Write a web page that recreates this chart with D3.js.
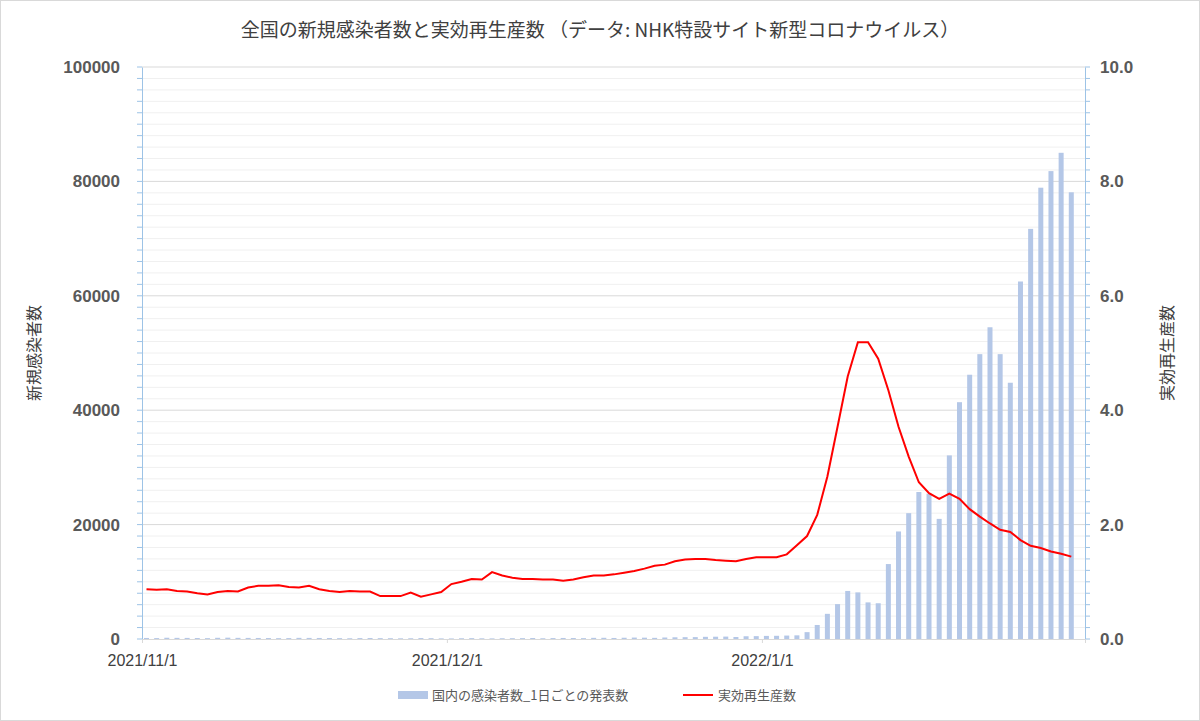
<!DOCTYPE html>
<html><head><meta charset="utf-8">
<script src="https://cdn.jsdelivr.net/npm/d3@7"></script>
<style>body{margin:0;background:#fff;font-family:"Noto Sans CJK JP",Arial,sans-serif}</style>
</head><body><div id="chart"></div>
<script>
// daily cases, 2021/11/1 .. 2022/1/31
var cases = [
  180,160,220,200,190,170,150,210,230,200,190,180,170,150,160,200,190,180,170,150,130,160,170,150,140,120,130,160,140,110,
  100,130,150,120,110,130,140,150,170,130,160,180,170,150,200,210,180,220,250,230,200,260,300,320,330,
  380,400,420,350,480,500,540,560,600,
  640,1200,2450,4400,6100,8400,8150,6400,6250,13100,18800,22000,25700,25400,21000,32100,41400,46200,49800,54500,49800,44800,62500,71700,78900,81800,85000,78100];
// effective reproduction number
var rt = [
  0.87,0.86,0.87,0.84,0.83,0.80,0.78,0.82,0.84,0.83,0.90,0.93,0.93,0.94,0.91,0.90,0.93,0.87,0.84,0.82,0.84,0.83,0.83,0.75,0.75,0.75,0.81,0.74,0.78,0.82,
  0.96,1.00,1.05,1.04,1.17,1.11,1.07,1.05,1.05,1.04,1.04,1.02,1.04,1.08,1.11,1.11,1.13,1.16,1.19,1.23,1.28,1.30,1.36,1.39,1.40,
  1.40,1.38,1.37,1.36,1.40,1.43,1.43,1.43,1.48,1.64,1.80,2.17,2.84,3.71,4.59,5.19,5.19,4.90,4.35,3.71,3.19,2.74,2.55,2.45,2.54,2.45,2.27,2.14,2.02,1.91,1.87,1.73,1.63,1.59,1.53,1.49,1.44];
var monthTicks = ["2021-11-01","2021-12-01","2022-01-01"];
var leftTicks = [0,20000,40000,60000,80000,100000];
var rightTicks = [0,2,4,6,8,10];

var W = 1200, H = 721, pl = 142, pr = 1085, pt = 67, pb = 639;
var start = new Date(2021,10,1);
var day = function(i) { return d3.timeDay.offset(start, i); };

var svg = d3.select("#chart").append("svg").attr("width",W).attr("height",H);
svg.append("rect").attr("x",0.5).attr("y",0.5).attr("width",W-1).attr("height",H-1)
  .attr("fill","#fff").attr("stroke","#d9d9d9");

var x = d3.scaleTime().domain([start, d3.timeHour.offset(day(92), 19)]).range([pl, pr]);
var y = d3.scaleLinear().domain([0,100000]).range([pb, pt]);
var y2 = d3.scaleLinear().domain([0,10]).range([pb, pt]);

// grid
svg.append("g").selectAll("line").data(d3.range(2000,100001,2000)).enter().append("line")
  .attr("x1",pl).attr("x2",pr).attr("y1",d=>y(d)).attr("y2",d=>y(d))
  .attr("stroke",d=> d%20000==0 ? "#d9d9d9" : "#f0f0f0");

// bars
svg.append("g").selectAll("rect").data(cases).enter().append("rect")
  .attr("x",(d,i)=>x(day(i))+2).attr("width",5)
  .attr("y",d=>y(d)).attr("height",d=>pb-y(d)).attr("fill","#b4c7e7");

// axes
var gl = svg.append("g").attr("transform","translate("+pl+",0)")
  .call(d3.axisLeft(y).tickValues(leftTicks).tickSize(0).tickPadding(22).tickFormat(d3.format("d")));
var gr = svg.append("g").attr("transform","translate("+pr+",0)")
  .call(d3.axisRight(y2).tickValues(rightTicks).tickSize(0).tickPadding(15).tickFormat(d3.format(".1f")));
[gl,gr].forEach(function(g){
  g.select(".domain").attr("stroke","#9dc3e6");
  g.selectAll("text").attr("font-family","Liberation Sans, Arial").attr("font-size",17)
    .attr("font-weight","bold").attr("fill","#595959");
});
// minor ticks on y axes
svg.append("g").selectAll("line").data(d3.range(0,10.01,0.2)).enter().append("line")
  .attr("x1",pl-5).attr("x2",pl).attr("y1",d=>y2(d)).attr("y2",d=>y2(d)).attr("stroke","#9dc3e6");
svg.append("g").selectAll("line").data(d3.range(0,10.01,0.2)).enter().append("line")
  .attr("x1",pr).attr("x2",pr+5).attr("y1",d=>y2(d)).attr("y2",d=>y2(d)).attr("stroke","#9dc3e6");

var gx = svg.append("g").attr("transform","translate(0,"+pb+")")
  .call(d3.axisBottom(x).tickValues(monthTicks.map(d=>d3.timeParse("%Y-%m-%d")(d)))
    .tickSize(4).tickPadding(12).tickFormat(d3.timeFormat("%Y/%-m/%-d")));
gx.select(".domain").attr("stroke","#d9d9d9");
gx.selectAll("line").attr("stroke","#d9d9d9");
gx.selectAll("text").attr("font-family","Liberation Sans, Arial").attr("font-size",16).attr("fill","#404040");

// line
svg.append("path").datum(rt).attr("fill","none").attr("stroke","#ff0000").attr("stroke-width",2)
  .attr("d", d3.line().x((d,i)=>x(day(i))+4.5).y(d=>y2(d)));

// titles
svg.append("text").attr("x",600).attr("y",37).attr("text-anchor","middle").attr("font-size",19)
  .attr("fill","#404040").text("全国の新規感染者数と実効再生産数 （データ: NHK特設サイト新型コロナウイルス）");
svg.append("text").attr("transform","translate(40,353) rotate(-90)").attr("text-anchor","middle")
  .attr("font-size",16).attr("fill","#404040").text("新規感染者数");
svg.append("text").attr("transform","translate(1173,353) rotate(-90)").attr("text-anchor","middle")
  .attr("font-size",16).attr("fill","#404040").text("実効再生産数");

// legend
var lg = svg.append("g").attr("transform","translate(398,697)");
lg.append("rect").attr("x",0).attr("y",-6).attr("width",30).attr("height",8).attr("fill","#b4c7e7");
lg.append("text").attr("x",34).attr("y",3).attr("font-size",13).attr("fill","#595959").text("国内の感染者数_1日ごとの発表数");
lg.append("line").attr("x1",285).attr("x2",315).attr("y1",-2).attr("y2",-2).attr("stroke","#ff0000").attr("stroke-width",2);
lg.append("text").attr("x",320).attr("y",3).attr("font-size",13).attr("fill","#595959").text("実効再生産数");
</script></body></html>
